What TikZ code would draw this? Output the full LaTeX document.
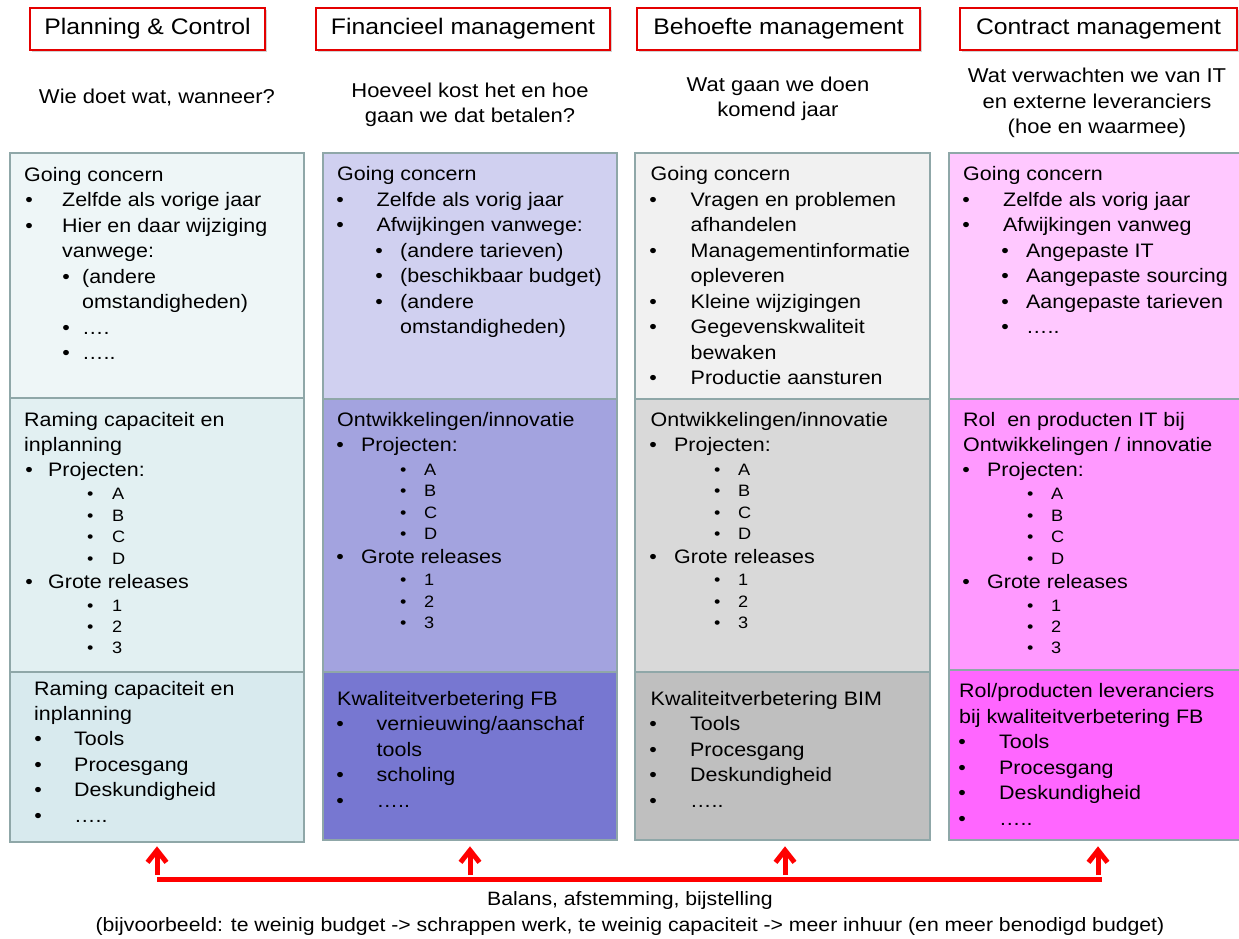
\documentclass[tikz,border=0pt]{standalone}
\usepackage{fontspec}
\setmainfont{Liberation Sans}[FakeStretch=1.1]
\usetikzlibrary{arrows.meta,shadows}
\definecolor{bord}{RGB}{143,167,168}
\definecolor{hred}{RGB}{228,0,0}
\definecolor{ca1}{RGB}{238,246,247}
\definecolor{ca2}{RGB}{226,240,242}
\definecolor{ca3}{RGB}{216,234,238}
\definecolor{cb1}{RGB}{208,208,240}
\definecolor{cb2}{RGB}{163,163,223}
\definecolor{cb3}{RGB}{119,119,209}
\definecolor{cc1}{RGB}{241,241,241}
\definecolor{cc2}{RGB}{217,217,217}
\definecolor{cc3}{RGB}{191,191,191}
\definecolor{cd1}{RGB}{255,200,255}
\definecolor{cd2}{RGB}{255,153,255}
\definecolor{cd3}{RGB}{255,102,255}
\newcounter{tl}
\newcommand\Ln[3]{\stepcounter{tl}\node[txt] (L\arabic{tl}) at (#1,#2) {#3};}
\newcommand\Bl[4]{\stepcounter{tl}\node[txt] (L\arabic{tl}) at (#1,#3) {\makebox[0pt]{\textbullet}\hspace*{\dimexpr #2pt-#1pt\relax}#4};}
\newcommand\Sb[4]{\stepcounter{tl}\node[stxt] (L\arabic{tl}) at (#1,#3) {\makebox[0pt]{\textbullet}\hspace*{\dimexpr #2pt-#1pt\relax}#4};}
\begin{document}
\begin{tikzpicture}[x=1pt,y=-1pt,
  cbox/.style={draw=bord, line width=2.6pt, inner sep=0pt, minimum width=294pt},
  hdr/.style={draw=hred, line width=1.8pt, fill=white, inner sep=0pt, minimum height=42pt,
    font=\fontsize{22.5}{27}\selectfont,
    drop shadow={shadow xshift=1.5pt, shadow yshift=-1.5pt, opacity=0.35, fill=gray}},
  subq/.style={align=center, inner sep=0pt, font=\fontsize{20}{25.5}\selectfont},
  txt/.style={anchor=base west, inner sep=0pt, font=\fontsize{19.5}{23}\selectfont},
  stxt/.style={anchor=base west, inner sep=0pt, font=\fontsize{16.5}{19}\selectfont},
  upar/.style={draw=red, line width=5pt, -{Straight Barb[length=12pt,width=19pt]}},
  bar/.style={draw=red, line width=5.5pt},
  foot/.style={inner sep=0pt, font=\fontsize{19.3}{23}\selectfont}]
\useasboundingbox (0,0) rectangle (1239,938);
\fill[white] (0,0) rectangle (1239,938);

% headers
\node[hdr, minimum width=235pt] (h1) at (147.5,29) {Planning \& Control};
\node[hdr, minimum width=294pt] (h2) at (463,29) {Financieel management};
\node[hdr, minimum width=283pt] (h3) at (778.5,29) {Behoefte management};
\node[hdr, minimum width=277pt] (h4) at (1098.5,29) {Contract management};

% questions
\node[subq] (q1) at (157,98) {Wie doet wat, wanneer?};
\node[subq] (q2) at (470,105) {Hoeveel kost het en hoe\\gaan we dat betalen?};
\node[subq] (q3) at (778,99) {Wat gaan we doen\\komend jaar};
\node[subq] (q4) at (1097,103) {Wat verwachten we van IT\\en externe leveranciers\\(hoe en waarmee)};

% boxes
\node[cbox, fill=ca1, minimum height=245pt] (c1a) at (157,275.5) {};
\node[cbox, fill=ca2, minimum height=274pt] (c1b) at (157,535) {};
\node[cbox, fill=ca3, minimum height=170pt] (c1c) at (157,757) {};
\node[cbox, fill=cb1, minimum height=246pt] (c2a) at (470,276) {};
\node[cbox, fill=cb2, minimum height=273pt] (c2b) at (470,535.5) {};
\node[cbox, fill=cb3, minimum height=168pt] (c2c) at (470,756) {};
\node[cbox, fill=cc1, minimum height=246pt, minimum width=295pt] (c3a) at (782.5,276) {};
\node[cbox, fill=cc2, minimum height=273pt, minimum width=295pt] (c3b) at (782.5,535.5) {};
\node[cbox, fill=cc3, minimum height=168pt, minimum width=295pt] (c3c) at (782.5,756) {};
\node[cbox, fill=cd1, minimum height=246pt] (c4a) at (1096,276) {};
\node[cbox, fill=cd2, minimum height=271pt] (c4b) at (1096,534.5) {};
\node[cbox, fill=cd3, minimum height=170pt] (c4c) at (1096,755) {};

% column 1
\Ln{24}{181}{Going concern}
\Bl{29}{62}{206.5}{Zelfde als vorige jaar}
\Bl{29}{62}{232}{Hier en daar wijziging}
\Ln{62}{257.5}{vanwege:}
\Bl{66}{82}{283}{(andere}
\Ln{82}{308.5}{omstandigheden)}
\Bl{66}{82}{334}{….}
\Bl{66}{82}{359.5}{…..}

\Ln{24}{426.5}{Raming capaciteit en}
\Ln{24}{451.5}{inplanning}
\Bl{29}{48}{476.5}{Projecten:}
\Sb{90}{112}{499.5}{A}
\Sb{90}{112}{521}{B}
\Sb{90}{112}{542.5}{C}
\Sb{90}{112}{564}{D}
\Bl{29}{48}{588}{Grote releases}
\Sb{90}{112}{611}{1}
\Sb{90}{112}{632.5}{2}
\Sb{90}{112}{653.5}{3}

\Ln{34}{695}{Raming capaciteit en}
\Ln{34}{720}{inplanning}
\Bl{38}{74}{745.5}{Tools}
\Bl{38}{74}{771}{Procesgang}
\Bl{38}{74}{796.5}{Deskundigheid}
\Bl{38}{74}{822}{…..}

% column 2
\Ln{337}{180.5}{Going concern}
\Bl{340}{376.5}{206}{Zelfde als vorig jaar}
\Bl{340}{376.5}{231.5}{Afwijkingen vanwege:}
\Bl{379}{400}{257}{(andere tarieven)}
\Bl{379}{400}{282.5}{(beschikbaar budget)}
\Bl{379}{400}{308}{(andere}
\Ln{400}{333.5}{omstandigheden)}

\Ln{337}{426.5}{Ontwikkelingen/innovatie}
\Bl{340}{361}{451.5}{Projecten:}
\Sb{403}{424}{475}{A}
\Sb{403}{424}{496.5}{B}
\Sb{403}{424}{518}{C}
\Sb{403}{424}{539.5}{D}
\Bl{340}{361}{563}{Grote releases}
\Sb{403}{424}{585.5}{1}
\Sb{403}{424}{607}{2}
\Sb{403}{424}{628.5}{3}

\Ln{337}{705}{Kwaliteitverbetering FB}
\Bl{340}{376.5}{730.5}{vernieuwing/aanschaf}
\Ln{376.5}{756}{tools}
\Bl{340}{376.5}{781.5}{scholing}
\Bl{340}{376.5}{807}{…..}

% column 3
\Ln{650.5}{180.5}{Going concern}
\Bl{653}{690.5}{206}{Vragen en problemen}
\Ln{690.5}{231.5}{afhandelen}
\Bl{653}{690.5}{257}{Managementinformatie}
\Ln{690.5}{282.5}{opleveren}
\Bl{653}{690.5}{308}{Kleine wijzigingen}
\Bl{653}{690.5}{333.5}{Gegevenskwaliteit}
\Ln{690.5}{359}{bewaken}
\Bl{653}{690.5}{384.5}{Productie aansturen}

\Ln{650.5}{426.5}{Ontwikkelingen/innovatie}
\Bl{653}{674}{451.5}{Projecten:}
\Sb{717}{738}{475}{A}
\Sb{717}{738}{496.5}{B}
\Sb{717}{738}{518}{C}
\Sb{717}{738}{539.5}{D}
\Bl{653}{674}{563}{Grote releases}
\Sb{717}{738}{585.5}{1}
\Sb{717}{738}{607}{2}
\Sb{717}{738}{628.5}{3}

\Ln{650.5}{705}{Kwaliteitverbetering BIM}
\Bl{653}{690}{730.5}{Tools}
\Bl{653}{690}{756}{Procesgang}
\Bl{653}{690}{781.5}{Deskundigheid}
\Bl{653}{690}{807}{…..}

% column 4
\Ln{963}{180.5}{Going concern}
\Bl{966}{1003}{206}{Zelfde als vorig jaar}
\Bl{966}{1003}{231.5}{Afwijkingen vanweg}
\Bl{1005}{1026}{257}{Angepaste IT}
\Bl{1005}{1026}{282.5}{Aangepaste sourcing}
\Bl{1005}{1026}{308}{Aangepaste tarieven}
\Bl{1005}{1026}{333.5}{…..}

\Ln{963}{426.5}{Rol\ \ en producten IT bij}
\Ln{963}{451.5}{Ontwikkelingen / innovatie}
\Bl{966}{987}{476.5}{Projecten:}
\Sb{1030}{1051}{499.5}{A}
\Sb{1030}{1051}{521}{B}
\Sb{1030}{1051}{542.5}{C}
\Sb{1030}{1051}{564}{D}
\Bl{966}{987}{588}{Grote releases}
\Sb{1030}{1051}{611}{1}
\Sb{1030}{1051}{632.5}{2}
\Sb{1030}{1051}{653.5}{3}

\Ln{959}{697}{Rol/producten leveranciers}
\Ln{959}{723}{bij kwaliteitverbetering FB}
\Bl{962}{999}{748.5}{Tools}
\Bl{962}{999}{774}{Procesgang}
\Bl{962}{999}{799.5}{Deskundigheid}
\Bl{962}{999}{825}{…..}

% balance bar and arrows
\coordinate (barL) at (157,879.5);
\coordinate (barR) at (1102,879.5);
\draw[bar] (barL) -- (barR);
\coordinate (s1) at (157,875);
\coordinate (s2) at (470,875);
\coordinate (s3) at (785,875);
\coordinate (s4) at (1098,875);
\draw[upar, shorten >=3pt] (s1) -- (s1 |- c1c.south);
\draw[upar, shorten >=5pt] (s2) -- (s2 |- c2c.south);
\draw[upar, shorten >=5pt] (s3) -- (s3 |- c3c.south);
\draw[upar, shorten >=5pt] (s4) -- (s4 |- c4c.south);

\node[foot] (f1) at (630,900) {Balans, afstemming, bijstelling};
\node[foot] (f2) at (630,926) {(bijvoorbeeld: te weinig budget -> schrappen werk, te weinig capaciteit -> meer inhuur (en meer benodigd budget)};
\end{tikzpicture}
\end{document}
